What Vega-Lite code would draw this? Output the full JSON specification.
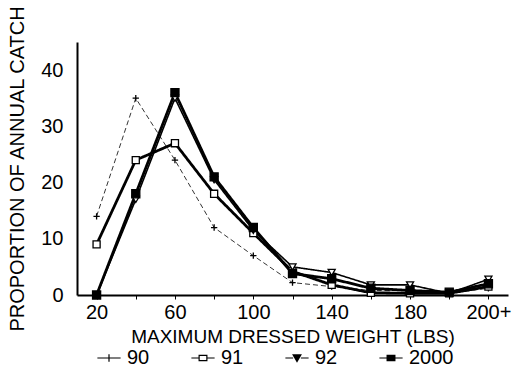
{
  "$schema": "https://vega.github.io/schema/vega-lite/v6.json",
  "width": 431,
  "height": 253,
  "autosize": {"type": "none"},
  "padding": {"left": 77, "top": 42, "right": 4, "bottom": 86},
  "background": "white",
  "config": {
    "font": "Liberation Sans",
    "view": {"stroke": null},
    "axis": {"grid": false, "domainColor": "black", "tickColor": "black", "labelColor": "black", "titleColor": "black", "titleFontWeight": "normal"}
  },
  "data": {
    "values": [
      {"series": "90", "w": 20, "p": 14}, {"series": "90", "w": 40, "p": 35}, {"series": "90", "w": 60, "p": 24}, {"series": "90", "w": 80, "p": 12}, {"series": "90", "w": 100, "p": 7}, {"series": "90", "w": 120, "p": 2.2}, {"series": "90", "w": 140, "p": 1.5}, {"series": "90", "w": 160, "p": 0.8}, {"series": "90", "w": 180, "p": 0.8}, {"series": "90", "w": 200, "p": 0.3}, {"series": "90", "w": 220, "p": 1.2},
      {"series": "91", "w": 20, "p": 9}, {"series": "91", "w": 40, "p": 24}, {"series": "91", "w": 60, "p": 27}, {"series": "91", "w": 80, "p": 18}, {"series": "91", "w": 100, "p": 11}, {"series": "91", "w": 120, "p": 4.2}, {"series": "91", "w": 140, "p": 1.8}, {"series": "91", "w": 160, "p": 0.4}, {"series": "91", "w": 180, "p": 0.3}, {"series": "91", "w": 200, "p": 0.3}, {"series": "91", "w": 220, "p": 1.5},
      {"series": "92", "w": 20, "p": 0}, {"series": "92", "w": 40, "p": 17}, {"series": "92", "w": 60, "p": 35}, {"series": "92", "w": 80, "p": 20.5}, {"series": "92", "w": 100, "p": 11.5}, {"series": "92", "w": 120, "p": 5}, {"series": "92", "w": 140, "p": 4}, {"series": "92", "w": 160, "p": 1.8}, {"series": "92", "w": 180, "p": 1.8}, {"series": "92", "w": 200, "p": 0.3}, {"series": "92", "w": 220, "p": 2.8},
      {"series": "2000", "w": 20, "p": 0}, {"series": "2000", "w": 40, "p": 18}, {"series": "2000", "w": 60, "p": 36}, {"series": "2000", "w": 80, "p": 21}, {"series": "2000", "w": 100, "p": 12}, {"series": "2000", "w": 120, "p": 3.8}, {"series": "2000", "w": 140, "p": 2.9}, {"series": "2000", "w": 160, "p": 1.2}, {"series": "2000", "w": 180, "p": 0.8}, {"series": "2000", "w": 200, "p": 0.5}, {"series": "2000", "w": 220, "p": 2.0}
    ]
  },
  "encoding": {
    "x": {
      "field": "w", "type": "quantitative",
      "scale": {"domain": [10, 230], "nice": false, "zero": false},
      "axis": {
        "title": "MAXIMUM DRESSED WEIGHT (LBS)",
        "titleFontSize": 19, "titlePadding": 5,
        "values": [20, 40, 60, 80, 100, 120, 140, 160, 180, 200, 220],
        "labelExpr": "datum.value % 40 == 20 ? (datum.value == 220 ? '200+' : datum.label) : ''",
        "labelFontSize": 20, "labelOverlap": false, "labelPadding": 3,
        "tickSize": 4, "domainWidth": 2, "tickWidth": 1
      }
    },
    "y": {
      "field": "p", "type": "quantitative",
      "scale": {"domain": [0, 45], "nice": false},
      "axis": {
        "title": "PROPORTION OF ANNUAL CATCH",
        "titleFontSize": 20, "titlePadding": 13,
        "values": [0, 10, 20, 30, 40],
        "labelFontSize": 20, "labelPadding": 14,
        "ticks": false, "domainWidth": 2
      }
    }
  },
  "layer": [
    {
      "mark": {"type": "line", "color": "black"},
      "encoding": {
        "detail": {"field": "series"},
        "strokeWidth": {"condition": [{"test": "datum.series == '90'", "value": 0.8}, {"test": "datum.series == '92'", "value": 1.6}], "value": 2.8},
        "strokeDash": {"condition": {"test": "datum.series == '90'", "value": [5, 3]}, "value": [1, 0]}
      }
    },
    {
      "mark": {"type": "point", "stroke": "black", "strokeWidth": 1.3, "opacity": 1},
      "encoding": {
        "shape": {"condition": [{"test": "datum.series == '90'", "value": "M-1,0H1M0,-1V1"}, {"test": "datum.series == '92'", "value": "triangle-down"}], "value": "square"},
        "fill": {"condition": {"test": "datum.series == '2000'", "value": "black"}, "value": "white"},
        "size": {"condition": [{"test": "datum.series == '90'", "value": 40}, {"test": "datum.series == '2000'", "value": 65}], "value": 50}
      }
    },
    {
      "mark": {"type": "point", "stroke": "black", "strokeWidth": 1.2, "opacity": 0, "size": 60},
      "encoding": {
        "shape": {
          "field": "series", "type": "nominal",
          "scale": {"domain": ["90", "91", "92", "2000"], "range": [
            "M-3,0H3M0,-1V1",
            "M-3,0H-1M1,0H3M-1,-0.7H1V0.7H-1Z",
            "M-3,0H-1M1,0H3M-1,-0.8L1,-0.8L0,0.9ZM-0.85,-0.55H0.85M-0.68,-0.3H0.68M-0.53,-0.05H0.53M-0.38,0.2H0.38M-0.23,0.45H0.23",
            "M-3,0H-1M1,0H3M-1,-0.7H1V0.7H-1ZM-1,-0.45H1M-1,-0.2H1M-1,0.05H1M-1,0.3H1M-1,0.55H1"
          ]},
          "legend": {
            "title": null, "orient": "none", "legendX": 22, "legendY": 306,
            "direction": "horizontal", "columns": 4,
            "labelFontSize": 20, "labelColor": "black", "labelOffset": 8,
            "symbolSize": 60, "columnPadding": 38, "symbolStrokeWidth": 1.2
          }
        }
      }
    }
  ],
  "resolve": {"scale": {"shape": "independent"}}
}
